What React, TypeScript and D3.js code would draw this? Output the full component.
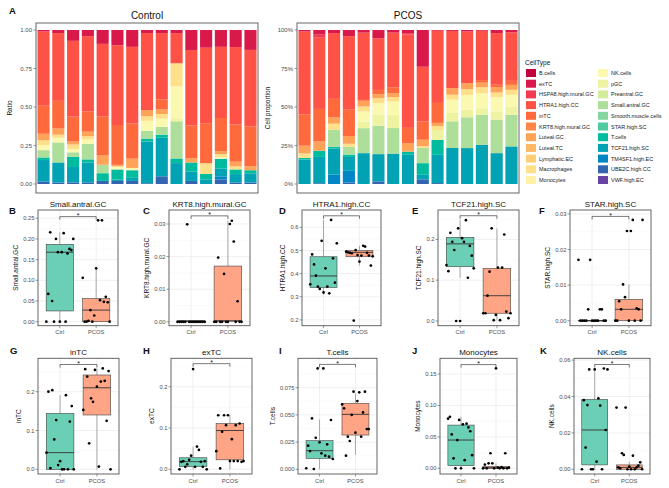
import React from "react";
import * as d3 from "d3";

// ---- panel A: cell type composition ----
const cellTypes = [
  "B.cells", "exTC", "HSPA8.high.mural.GC", "HTRA1.high.CC", "inTC", "KRT8.high.mural.GC",
  "Luteal.GC", "Luteal.TC", "Lymphatic.EC", "Macrophages", "Monocytes",
  "NK.cells", "pGC", "Preantral.GC", "Small.antral.GC", "Smooth.muscle.cells", "STAR.high.SC",
  "T.cells", "TCF21.high.SC", "TM4SF1.high.EC", "UBE2C.high.CC", "VWF.high.EC",
];
const cellColors = [
  "#c2003e", "#d9194a", "#f23a50", "#ff5247", "#ff6a3d", "#ff8646",
  "#ffa358", "#ffb865", "#ffcd74", "#ffe08a", "#fff2a6",
  "#fbf9b0", "#eef3a2", "#d5ec9a", "#aedf9a", "#87d6a2", "#4fcba3",
  "#00bc9f", "#00a2b3", "#0085c5", "#3465b0", "#6744a3",
];

// cell types that are visible in the bars, top to bottom
const barTypes = [
  "exTC", "HSPA8.high.mural.GC", "HTRA1.high.CC", "inTC", "Luteal.GC", "Macrophages",
  "NK.cells", "pGC", "Small.antral.GC", "T.cells", "TCF21.high.SC", "TM4SF1.high.EC", "UBE2C.high.CC",
];

// percent of cells per sample, columns follow barTypes
const ctrlComposition = [
  [1, 0, 48.6, 18.4, 4.3, 3.2, 3.2, 0, 4.8, 1.7, 14, 0, 1.7],
  [2, 0, 44, 18, 4, 2, 3, 0, 13, 0, 13, 0, 1],
  [7, 0, 49, 16, 2, 3, 2, 0, 3, 6.5, 10, 0, 1],
  [4, 0, 49, 13, 3, 2, 3, 0, 10, 2, 13, 0, 1],
  [9, 0, 47, 25.5, 6, 0, 0, 0, 5.5, 5, 0, 0, 2],
  [10, 0, 52, 26, 1, 0, 2, 0, 0, 6.5, 1, 0, 2],
  [11, 0, 50, 23, 6, 0, 1.5, 0, 0, 5, 2, 0, 2],
  [2, 0, 50, 0, 4, 3, 6.5, 0, 5, 2, 27, 0, 0.5],
  [2, 0, 43, 6.5, 3, 3, 5.4, 0, 5, 2, 25, 0, 5],
  [2, 0, 19.5, 0, 0, 15, 20.5, 2, 24, 3, 13.5, 0, 0],
  [13, 0, 49, 21.6, 2.6, 0, 0, 0, 0, 6, 6, 0, 2],
  [11.5, 0, 49, 26, 0, 7, 0, 0, 0, 3.5, 3, 0, 0],
  [11, 0, 46.5, 21.6, 2, 2, 1, 0, 0, 6.5, 5, 2, 3],
  [11, 0, 50, 24, 3, 2, 0, 0, 0, 3, 5.4, 0, 1],
  [13, 0, 50, 26, 2.6, 0, 0, 0, 0, 2, 6, 0, 1],
];
const pcosComposition = [
  [1, 0, 54, 20.5, 5, 3, 0, 0, 0, 1, 16, 0, 0],
  [3, 2, 46, 21, 6, 0, 0, 0, 0, 4, 17, 0, 0.5],
  [2, 0, 42.5, 12, 4, 4, 0, 0, 11, 1, 17, 6, 0],
  [4, 0, 47.5, 17, 5, 2, 0, 0, 5, 1.5, 9, 7.5, 1],
  [1.7, 0, 43.6, 0.6, 3.7, 3.2, 6.5, 4.3, 16.2, 0, 20, 0, 0],
  [5.4, 0, 33.5, 2.8, 2.6, 3.2, 7.6, 7.1, 18.4, 0, 17.7, 0, 1.7],
  [1.7, 0, 35.4, 3.9, 2.6, 2.8, 8.6, 8.6, 16.6, 0, 19.7, 0, 0],
  [2, 1, 60.5, 10, 5.4, 0, 0, 0, 0, 2, 19, 0, 0],
  [24, 0, 35.6, 12, 4.3, 1, 0, 0, 10, 7.6, 3, 0, 3],
  [0.5, 0, 47, 13, 2, 2.6, 0, 6.5, 0, 9.7, 18.4, 0, 0.6],
  [0.6, 0, 37, 0, 4.3, 3.2, 8.6, 5.4, 17.3, 0, 23.3, 0, 0],
  [1, 0, 33.5, 0, 3.9, 3.7, 9.7, 4.8, 20, 0, 23.3, 0, 0],
  [0.5, 0, 32, 1.7, 3, 3.9, 9.7, 4.3, 19.4, 0, 25.5, 0, 0],
  [2, 0, 33.5, 1.5, 3.5, 3, 9.3, 5.4, 21.6, 0, 20, 0, 0],
  [1.5, 0, 31.5, 2.6, 3.2, 3.2, 7.6, 5.4, 20.5, 0, 24.4, 0, 0],
];
const ratioTicks = [0, 0.25, 0.5, 0.75, 1];

// ---- panels B-K: per-sample proportions ----
const groups = ["Ctrl", "PCOS"];

const smallAntralCtrl = [0, 0.067, 0.216, 0.05, 0, 0.2, 0.168, 0, 0.168, 0.214, 0, 0.165, 0.176, 0.173, 0.2];
const smallAntralPcos = [0.106, 0, 0, 0.002, 0.028, 0, 0.015, 0.129, 0.245, 0.052, 0.245, 0.048, 0.06, 0.047, 0];
const krt8Ctrl = [0, 0, 0, 0, 0, 0.0299, 0, 0, 0, 0, 0, 0, 0, 0, 0];
const krt8Pcos = [0, 0, 0.0197, 0, 0, 0.0147, 0, 0, 0.03, 0.031, 0.0246, 0, 0.0063, 0, 0];
const htra1Ctrl = [0.354, 0.483, 0.44, 0.391, 0.344, 0.334, 0.542, 0.319, 0.423, 0.344, 0.315, 0.632, 0.466, 0.361, 0.531];
const htra1Pcos = [0.495, 0.492, 0.49, 0.488, 0.197, 0.502, 0.48, 0.452, 0.478, 0.52, 0.517, 0.49, 0.478, 0.435, 0.475];
const tcf21Ctrl = [0.137, 0.122, 0.216, 0.194, 0.174, 0, 0.227, 0, 0.203, 0.194, 0.247, 0.106, 0.184, 0.16, 0.129];
const tcf21Pcos = [0.019, 0.019, 0.062, 0.121, 0.227, 0.002, 0.015, 0.131, 0.002, 0.131, 0.212, 0.023, 0.007, 0.019];
const starCtrl = [0.0171, 0, 0, 0, 0, 0.0032, 0.0171, 0, 0, 0, 0, 0.0032, 0.0032, 0, 0];
const starPcos = [0, 0, 0.0055, 0.0032, 0.0102, 0.0066, 0.0252, 0, 0.0252, 0.0283, 0, 0.0035, 0.0032, 0, 0.0283];
const intcCtrl = [0.043, 0.2, 0.003, 0.204, 0.077, 0.127, 0.011, 0.021, 0, 0, 0.191, 0, 0.123, 0.163, 0];
const intcPcos = [0.153, 0.258, 0.239, 0.067, 0.183, 0.174, 0.256, 0.213, 0.007, 0.226, 0.26, 0.228, 0.125, 0.253, 0];
const extcCtrl = [0, 0.018, 0.02, 0.006, 0.012, 0.023, 0.033, 0.243, 0.006, 0.055, 0.047, 0.018, 0.006, 0.02, 0];
const extcPcos = [0.044, 0.131, 0.002, 0.091, 0.131, 0.107, 0.131, 0.02, 0.073, 0.02, 0.107, 0.02, 0.111, 0.018, 0.02];
const tcellCtrl = [0.001, 0.0217, 0.0168, 0.0468, 0.0003, 0.029, 0.0927, 0.0248, 0.0147, 0.0927, 0.0125, 0.023, 0.0116, 0.0453, 0.0095];
const tcellPcos = [0.0597, 0.056, 0.0125, 0.03, 0.026, 0.05, 0.0713, 0.0337, 0.0627, 0.0707, 0.03, 0.0523, 0.0713, 0.037, 0.037];
const monoCtrl = [0.079, 0.082, 0.054, 0.016, 0, 0.045, 0.077, 0, 0.07, 0.013, 0.071, 0.065, 0.059, 0.021, 0];
const monoPcos = [0, 0.006, 0, 0.008, 0.024, 0.008, 0, 0.159, 0.001, 0, 0.002, 0, 0.024, 0, 0.001];
const nkCtrl = [0, 0.038, 0.0119, 0.0353, 0.0549, 0, 0, 0.0549, 0.0042, 0.039, 0.035, 0, 0.0554, 0.0216, 0.0549];
const nkPcos = [0.0339, 0.001, 0.0005, 0.0088, 0.0079, 0.0339, 0, 0.0015, 0, 0.0075, 0, 0.001, 0.002, 0.0038, 0];

// box stats: [lower whisker, q1, median, q3, upper whisker] for Ctrl then PCOS
const smallAntralBox = [[0, 0.026, 0.168, 0.187, 0.216], [0, 0, 0.028, 0.056, 0.13]];
const krt8Box = [[0, 0.0001, 0.0002, 0.0003, 0.0003], [0, 0.0002, 0.0003, 0.0171, 0.031]];
const htra1Box = [[0.308, 0.34, 0.39, 0.473, 0.632], [0.435, 0.473, 0.492, 0.5, 0.52]];
const tcf21Box = [[0.106, 0.133, 0.189, 0.205, 0.247], [0.002, 0.019, 0.062, 0.129, 0.227]];
const starBox = [[0, 0, 0, 0.0001, 0.0001], [0, 0, 0.0032, 0.006, 0.0102]];
const intcBox = [[0, 0, 0.043, 0.144, 0.191], [0, 0.14, 0.21, 0.243, 0.26]];
const extcBox = [[0, 0.0065, 0.0185, 0.028, 0.055], [0, 0.023, 0.094, 0.111, 0.131]];
const tcellBox = [[0, 0.0101, 0.0171, 0.0263, 0.0459], [0.0132, 0.0315, 0.0505, 0.0606, 0.0698]];
const monoBox = [[0, 0.0042, 0.045, 0.0688, 0.082], [0, 0, 0.001, 0.003, 0.008]];
const nkBox = [[0, 0.0024, 0.0216, 0.0384, 0.0554], [0, 0, 0.001, 0.0024, 0.0042]];

const boxPanels = [
  { letter: "B", title: "Small.antral.GC", ticks: [0, 0.05, 0.1, 0.15, 0.2, 0.25], fmt: ".2f", domain: [-0.0097, 0.27], ctrl: smallAntralCtrl, pcos: smallAntralPcos, box: smallAntralBox, bracket: 0.254 },
  { letter: "C", title: "KRT8.high.mural.GC", ticks: [0, 0.01, 0.02, 0.03], fmt: ".2f", domain: [-0.0012, 0.0343], ctrl: krt8Ctrl, pcos: krt8Pcos, box: krt8Box, bracket: 0.0325 },
  { letter: "D", title: "HTRA1.high.CC", ticks: [0.2, 0.3, 0.4, 0.5, 0.6], fmt: ".1f", domain: [0.175, 0.675], ctrl: htra1Ctrl, pcos: htra1Pcos, box: htra1Box, bracket: 0.65 },
  { letter: "E", title: "TCF21.high.SC", ticks: [0, 0.1, 0.2], fmt: ".1f", domain: [-0.0115, 0.272], ctrl: tcf21Ctrl, pcos: tcf21Pcos, box: tcf21Box, bracket: 0.258 },
  { letter: "F", title: "STAR.high.SC", ticks: [0, 0.01, 0.02, 0.03], fmt: ".2f", domain: [-0.0014, 0.0311], ctrl: starCtrl, pcos: starPcos, box: starBox, bracket: 0.0293 },
  { letter: "G", title: "inTC", ticks: [0, 0.1, 0.2], fmt: ".1f", domain: [-0.012, 0.286], ctrl: intcCtrl, pcos: intcPcos, box: intcBox, bracket: 0.27 },
  { letter: "H", title: "exTC", ticks: [0, 0.1, 0.2], fmt: ".1f", domain: [-0.0114, 0.269], ctrl: extcCtrl, pcos: extcPcos, box: extcBox, bracket: 0.256 },
  { letter: "I", title: "T.cells", ticks: [0, 0.025, 0.05, 0.075], fmt: ".3f", domain: [-0.0043, 0.102], ctrl: tcellCtrl, pcos: tcellPcos, box: tcellBox, bracket: 0.0964 },
  { letter: "J", title: "Monocytes", ticks: [0, 0.05, 0.1, 0.15], fmt: ".2f", domain: [-0.009, 0.175], ctrl: monoCtrl, pcos: monoPcos, box: monoBox, bracket: 0.165 },
  { letter: "K", title: "NK.cells", ticks: [0, 0.02, 0.04, 0.06], fmt: ".2f", domain: [-0.0026, 0.061], ctrl: nkCtrl, pcos: nkPcos, box: nkBox, bracket: 0.0576 },
];

// layout: [letterX, panelLeft, panelRight, rowIndex]
const panelFrames = [
  [9, 38, 118, 0], [143, 169, 250, 0], [279, 302, 381, 0], [412, 438, 519, 0], [539, 570, 651, 0],
  [10, 38, 119, 1], [143, 171, 252, 1], [279, 298, 377, 1], [412, 440, 517, 1], [540, 574, 650, 1],
];
const rows = [
  { top: 210, bottom: 325.7 },
  { top: 358.3, bottom: 474 },
];

const FONT = "'Liberation Sans', Arial, Helvetica, sans-serif";
const groupFill = ["#6acfb4", "#ffa586"];
const colorOf = (k) => cellColors[cellTypes.indexOf(k)];

function StackPanel({ title, data, left, right, yTitle, tickFormat }) {
  const top = 23;
  const bottom = 193;
  const rowsData = data.map((r, i) => {
    const o = { id: i };
    barTypes.forEach((k, j) => (o[k] = r[j]));
    return o;
  });
  const series = d3
    .stack()
    .keys([...barTypes].reverse())
    .offset(d3.stackOffsetExpand)(rowsData);
  const x = d3
    .scaleBand()
    .domain(rowsData.map((d) => d.id))
    .range([left, right])
    .paddingInner(0.18)
    .paddingOuter(0.1);
  const y = d3.scaleLinear().domain([0, 1]).range([184, 30]);

  return (
    <g>
      <text x={(left + right) / 2} y={19} textAnchor="middle" fontSize={10} fill="#111">
        {title}
      </text>
      {series.map((s) => (
        <g key={s.key} fill={colorOf(s.key)}>
          {s.map((d, i) =>
            d[1] - d[0] > 0 ? (
              <rect
                key={i}
                x={x(d.data.id)}
                y={y(d[1])}
                width={x.bandwidth()}
                height={y(d[0]) - y(d[1])}
              />
            ) : null
          )}
        </g>
      ))}
      <rect x={left} y={top} width={right - left} height={bottom - top} fill="none" stroke="#555" strokeWidth={0.9} />
      {ratioTicks.map((t) => (
        <g key={t} transform={`translate(${left}, ${y(t)})`}>
          <line x2={-2.5} stroke="#555" strokeWidth={0.6} />
          <text x={-4} dy="0.35em" textAnchor="end" fontSize={6} fill="#4d4d4d">
            {tickFormat(t)}
          </text>
        </g>
      ))}
      <text
        transform={`translate(${yTitle}, ${(top + bottom) / 2}) rotate(-90)`}
        textAnchor="middle"
        fontSize={6.5}
        fill="#111"
      >
        {title === "Control" ? "Ratio" : "Cell proportion"}
      </text>
    </g>
  );
}

function Legend() {
  const x0 = 526;
  const y0 = 69;
  const step = 10.7;
  return (
    <g>
      <text x={525} y={65} fontSize={6.5} fill="#111">
        CellType
      </text>
      {cellTypes.map((c, i) => {
        const col = i < 11 ? 0 : 1;
        const row = i % 11;
        const kx = x0 + col * 72;
        const ky = y0 + row * step;
        return (
          <g key={c}>
            <rect x={kx} y={ky} width={10} height={8} fill={cellColors[i]} />
            <text x={kx + 13} y={ky + 6} fontSize={5.5} fill="#222">
              {c}
            </text>
          </g>
        );
      })}
    </g>
  );
}

function BoxPanel({ p, frame }) {
  const [letterX, left, right, rowIdx] = frame;
  const { top, bottom } = rows[rowIdx];
  const y = d3.scaleLinear().domain(p.domain).range([bottom, top]);
  const x = d3.scalePoint().domain(groups).range([left, right]).padding(0.6);
  const step = x.step();
  const fmt = d3.format(p.fmt);
  const tickStep = p.ticks[1] - p.ticks[0];
  const minor = [p.ticks[0] - tickStep / 2, ...p.ticks.map((t) => t + tickStep / 2)].filter(
    (v) => v > p.domain[0] && v < p.domain[1]
  );
  const labelW = d3.max(p.ticks, (t) => fmt(t).length) * 3.3;
  const boxW = step * 0.75;

  return (
    <g>
      <text x={letterX} y={rowIdx === 0 ? 214 : 354} fontSize={9.5} fontWeight="bold" fill="#111">
        {p.letter}
      </text>
      <text x={(left + right) / 2} y={top - 3.5} textAnchor="middle" fontSize={8} fill="#111">
        {p.title}
      </text>
      <rect x={left} y={top} width={right - left} height={bottom - top} fill="#fff" />
      {minor.map((v) => (
        <line key={"m" + v} x1={left} x2={right} y1={y(v)} y2={y(v)} stroke="#f3f3f3" strokeWidth={0.4} />
      ))}
      {p.ticks.map((t) => (
        <line key={"g" + t} x1={left} x2={right} y1={y(t)} y2={y(t)} stroke="#e6e6e6" strokeWidth={0.6} />
      ))}
      {groups.map((g) => (
        <line key={"v" + g} x1={x(g)} x2={x(g)} y1={top} y2={bottom} stroke="#e6e6e6" strokeWidth={0.6} />
      ))}
      {groups.map((g, gi) => {
        const [lo, q1, med, q3, hi] = p.box[gi];
        const cx = x(g);
        return (
          <g key={"b" + g}>
            <line x1={cx} x2={cx} y1={y(hi)} y2={y(q3)} stroke="#8a8a8a" strokeWidth={0.7} />
            <line x1={cx} x2={cx} y1={y(q1)} y2={y(lo)} stroke="#8a8a8a" strokeWidth={0.7} />
            <rect
              x={cx - boxW / 2}
              y={y(q3)}
              width={boxW}
              height={Math.max(0.6, y(q1) - y(q3))}
              fill={groupFill[gi]}
              stroke="#444"
              strokeWidth={0.6}
            />
            <line x1={cx - boxW / 2} x2={cx + boxW / 2} y1={y(med)} y2={y(med)} stroke="#333" strokeWidth={0.9} />
          </g>
        );
      })}
      {groups.map((g, gi) => {
        const vals = gi === 0 ? p.ctrl : p.pcos;
        const jit = d3.scaleLinear().domain([0, vals.length - 1]).range([-0.37 * step, 0.37 * step]);
        return vals.map((v, i) => (
          <circle key={g + i} cx={x(g) + jit(i)} cy={y(v)} r={1.35} fill="#000" />
        ));
      })}
      {/* significance bracket */}
      <path
        d={`M${x("Ctrl")},${y(p.bracket) + 3}V${y(p.bracket)}H${x("PCOS")}V${y(p.bracket) + 3}`}
        fill="none"
        stroke="#222"
        strokeWidth={0.6}
      />
      <text x={(x("Ctrl") + x("PCOS")) / 2} y={y(p.bracket) + 1.5} textAnchor="middle" fontSize={7} fill="#111">
        *
      </text>
      <rect x={left} y={top} width={right - left} height={bottom - top} fill="none" stroke="#555" strokeWidth={0.9} />
      {p.ticks.map((t) => (
        <g key={"t" + t} transform={`translate(${left}, ${y(t)})`}>
          <line x2={-2.5} stroke="#555" strokeWidth={0.6} />
          <text x={-3.5} dy="0.35em" textAnchor="end" fontSize={5.8} fill="#4d4d4d">
            {fmt(t)}
          </text>
        </g>
      ))}
      {groups.map((g) => (
        <g key={"x" + g} transform={`translate(${x(g)}, ${bottom})`}>
          <line y2={2.5} stroke="#555" strokeWidth={0.6} />
          <text y={8.5} textAnchor="middle" fontSize={5.8} fill="#4d4d4d">
            {g}
          </text>
        </g>
      ))}
      <text
        transform={`translate(${left - 3 - labelW - 4}, ${(top + bottom) / 2}) rotate(-90)`}
        textAnchor="middle"
        fontSize={6.5}
        fill="#111"
      >
        {p.title}
      </text>
    </g>
  );
}

export default function App() {
  return (
    <svg
      width={669}
      height={488}
      style={{ position: "absolute", left: 0, top: 0, background: "#fff" }}
      fontFamily={FONT}
    >
      <rect width={669} height={488} fill="#fff" />
      <text x={9} y={14} fontSize={9.5} fontWeight="bold" fill="#111">
        A
      </text>
      <StackPanel title="Control" data={ctrlComposition} left={36} right={258} yTitle={12} tickFormat={d3.format(".2f")} />
      <StackPanel title="PCOS" data={pcosComposition} left={297} right={519} yTitle={270} tickFormat={d3.format(".0%")} />
      <Legend />
      {boxPanels.map((p, i) => (
        <BoxPanel key={p.letter} p={p} frame={panelFrames[i]} />
      ))}
    </svg>
  );
}
